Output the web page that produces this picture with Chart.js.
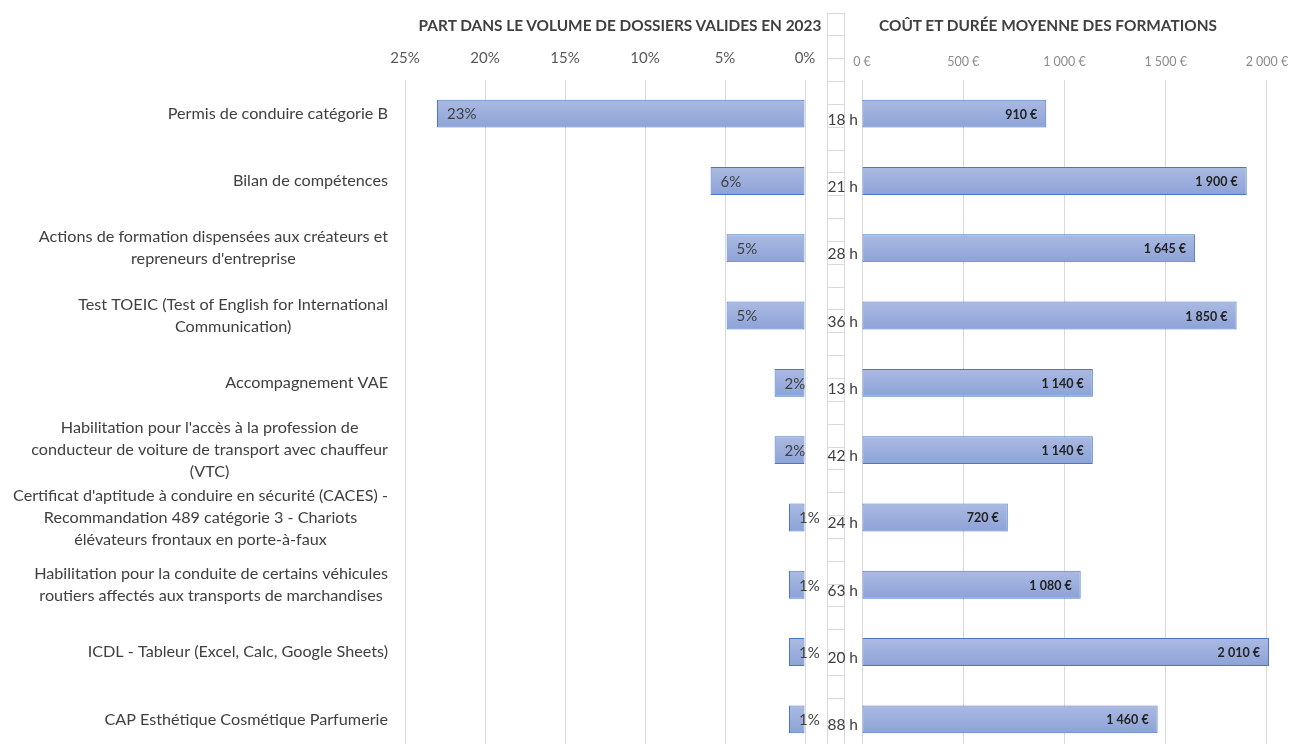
<!DOCTYPE html>
<html lang="fr">
<head>
<meta charset="utf-8">
<script src="https://cdn.jsdelivr.net/npm/chart.js@4.4.1/dist/chart.umd.min.js"></script>
<style>
  html, body { margin: 0; padding: 0; width: 1289px; height: 744px; overflow: hidden; background: #fff; }
  .box { position: absolute; }
  .titre {
    position: absolute; top: 16px; line-height: 18px;
    font: bold 15.4px Lato, sans-serif; color: #404040;
    white-space: nowrap; transform: translateX(-50%);
  }
</style>
</head>
<body>
<div class="box" style="left:826px;top:12px;width:20px;height:734px"><canvas id="midGrid"></canvas></div>
<div class="box" style="left:0;top:0;width:826px;height:753px"><canvas id="shareChart"></canvas></div>
<div class="box" style="left:820px;top:0;width:469px;height:753px"><canvas id="costChart"></canvas></div>
<div class="titre" style="left:620px">PART DANS LE VOLUME DE DOSSIERS VALIDES EN 2023</div>
<div class="titre" style="left:1048px">COÛT ET DURÉE MOYENNE DES FORMATIONS</div>

<script>
// libellés des formations
const categories = [
    'Permis de conduire catégorie B',
    'Bilan de compétences',
    ['Actions de formation dispensées aux créateurs et', "repreneurs d'entreprise"],
    ['Test TOEIC (Test of English for International', 'Communication)'],
    'Accompagnement VAE',
    ["Habilitation pour l'accès à la profession de", 'conducteur de voiture de transport avec chauffeur', '(VTC)'],
    ["Certificat d'aptitude à conduire en sécurité (CACES) -", 'Recommandation 489 catégorie 3 - Chariots', 'élévateurs frontaux en porte-à-faux'],
    ['Habilitation pour la conduite de certains véhicules', 'routiers affectés aux transports de marchandises'],
    'ICDL - Tableur (Excel, Calc, Google Sheets)',
    'CAP Esthétique Cosmétique Parfumerie'
];

// part dans le volume de dossiers (%)
const shares = [23, 5.9, 4.9, 4.9, 1.9, 1.9, 1.0, 1.0, 1.0, 1.0];

// durée moyenne
const hours = ['18 h', '21 h', '28 h', '36 h', '13 h', '42 h', '24 h', '63 h', '20 h', '88 h'];

// coût moyen (€)
const costs = [910, 1900, 1645, 1850, 1140, 1140, 720, 1080, 2010, 1460];

const shareTicks = [0, 5, 10, 15, 20, 25];
const costTicks = [0, 500, 1000, 1500, 2000];

const BAR_PCT = 0.415;
const FILL_TOP = '#abbae2';
const FILL_BOTTOM = '#8ca2d7';
const BORDER = '#4a77c6';
const FONT = 'Lato, sans-serif';

function fmtEuro(v) {
    return String(v).replace(/\B(?=(\d{3})+(?!\d))/g, '\u202f') + '\u00a0€';
}

// dégradé vertical pour chaque barre
function barFill(ctx) {
    const yScale = ctx.chart.scales.y;
    if (!yScale || ctx.dataIndex === undefined) return FILL_BOTTOM;
    const yc = yScale.getPixelForValue(ctx.dataIndex);
    const half = (yScale.bottom - yScale.top) / categories.length * BAR_PCT / 2;
    if (!isFinite(yc) || !isFinite(half) || half <= 0) return FILL_BOTTOM;
    const g = ctx.chart.ctx.createLinearGradient(0, yc - half, 0, yc + half);
    g.addColorStop(0, FILL_TOP);
    g.addColorStop(1, FILL_BOTTOM);
    return g;
}

// les axes ne doivent pas rogner la zone de tracé
function fixYAxis(width) {
    return s => {
        s.width = width;
        s.paddingTop = 0;
        s.paddingBottom = 0;
    };
}
function fixXAxis(height) {
    return s => {
        s.height = height;
        s.paddingLeft = 0;
        s.paddingRight = 0;
    };
}

// libellés de catégories : bloc aligné à droite, lignes centrées dans le bloc (comme Excel)
const categoryLabels = {
    id: 'categoryLabels',
    afterDraw(chart) {
        const ctx = chart.ctx;
        const y = chart.scales.y;
        const size = 16.2, lh = 22;
        ctx.save();
        ctx.font = size + 'px ' + FONT;
        ctx.fillStyle = '#404040';
        ctx.textAlign = 'center';
        ctx.textBaseline = 'middle';
        categories.forEach((lab, i) => {
            const lines = Array.isArray(lab) ? lab : [lab];
            const w = Math.max(...lines.map(l => ctx.measureText(l).width));
            const cx = y.right - 17 - w / 2;
            const yc = y.getPixelForTick(i);
            lines.forEach((l, k) => {
                ctx.fillText(l, cx, yc + (k - (lines.length - 1) / 2) * lh);
            });
        });
        ctx.restore();
    }
};

const shareLabels = {
    id: 'shareLabels',
    afterDatasetsDraw(chart) {
        const ctx = chart.ctx;
        ctx.save();
        ctx.font = '15px ' + FONT;
        ctx.fillStyle = '#404040';
        ctx.textAlign = 'left';
        ctx.textBaseline = 'middle';
        chart.getDatasetMeta(0).data.forEach((bar, i) => {
            ctx.fillText(Math.round(shares[i]) + '%', bar.x + 10, bar.y + 1);
        });
        ctx.restore();
    }
};

const costLabels = {
    id: 'costLabels',
    afterDatasetsDraw(chart) {
        const ctx = chart.ctx;
        ctx.save();
        ctx.font = 'bold 12.5px ' + FONT;
        ctx.fillStyle = '#222';
        ctx.textAlign = 'right';
        ctx.textBaseline = 'middle';
        chart.getDatasetMeta(0).data.forEach((bar, i) => {
            ctx.fillText(fmtEuro(costs[i]), bar.x - 9, bar.y + 1);
        });
        ctx.restore();
    }
};

const barDataset = (values) => ({
    data: values,
    backgroundColor: barFill,
    borderColor: BORDER,
    borderWidth: 1,
    borderSkipped: false,
    barPercentage: BAR_PCT,
    categoryPercentage: 1
});

const common = {
    indexAxis: 'y',
    responsive: true,
    maintainAspectRatio: false,
    animation: false,
    events: [],
    plugins: { legend: { display: false }, tooltip: { enabled: false } }
};

// grille de cellules au milieu
new Chart(document.getElementById('midGrid'), {
    type: 'scatter',
    data: { datasets: [] },
    options: {
        responsive: true,
        maintainAspectRatio: false,
        animation: false,
        events: [],
        layout: { padding: { left: 1, right: 2, top: 1, bottom: 2 } },
        plugins: { legend: { display: false }, tooltip: { enabled: false } },
        scales: {
            x: { min: 0, max: 1, ticks: { display: false, stepSize: 1 }, grid: { color: '#d9d9d9', drawTicks: false }, border: { display: false } },
            y: { min: 0, max: 32, ticks: { display: false, stepSize: 1 }, grid: { color: '#d9d9d9', drawTicks: false }, border: { display: false } }
        }
    }
});

new Chart(document.getElementById('shareChart'), {
    type: 'bar',
    data: { labels: categories, datasets: [barDataset(shares)] },
    plugins: [shareLabels, categoryLabels],
    options: {
        ...common,
        layout: { padding: { right: 21 } },
        scales: {
            x: {
                position: 'top',
                reverse: true,
                min: 0,
                max: 25,
                afterBuildTicks: s => { s.ticks = shareTicks.map(v => ({ value: v })); },
                ticks: { padding: 13, color: '#595959', font: { family: FONT, size: 15 }, callback: v => v + '%' },
                grid: { color: '#d9d9d9', drawTicks: false },
                border: { display: false },
                afterFit: fixXAxis(80)
            },
            y: {
                grid: { display: false, drawTicks: false },
                border: { display: false },
                ticks: { display: false },
                afterFit: fixYAxis(405)
            }
        }
    }
});

new Chart(document.getElementById('costChart'), {
    type: 'bar',
    data: { labels: hours, datasets: [barDataset(costs)] },
    plugins: [costLabels],
    options: {
        ...common,
        layout: { padding: { right: 20 } },
        scales: {
            x: {
                position: 'top',
                min: 0,
                max: 2010,
                afterBuildTicks: s => { s.ticks = costTicks.map(v => ({ value: v })); },
                ticks: { padding: 11, color: '#8c8c8c', font: { family: FONT, size: 12.5 }, callback: v => fmtEuro(v) },
                grid: { color: '#d9d9d9', drawTicks: false },
                border: { display: false },
                afterFit: fixXAxis(80)
            },
            y: {
                grid: { display: false, drawTicks: false },
                border: { display: false },
                ticks: { autoSkip: false, padding: 4, labelOffset: 6, color: '#404040', font: { family: FONT, size: 15.5 } },
                afterFit: fixYAxis(42)
            }
        }
    }
});
</script>
</body>
</html>
